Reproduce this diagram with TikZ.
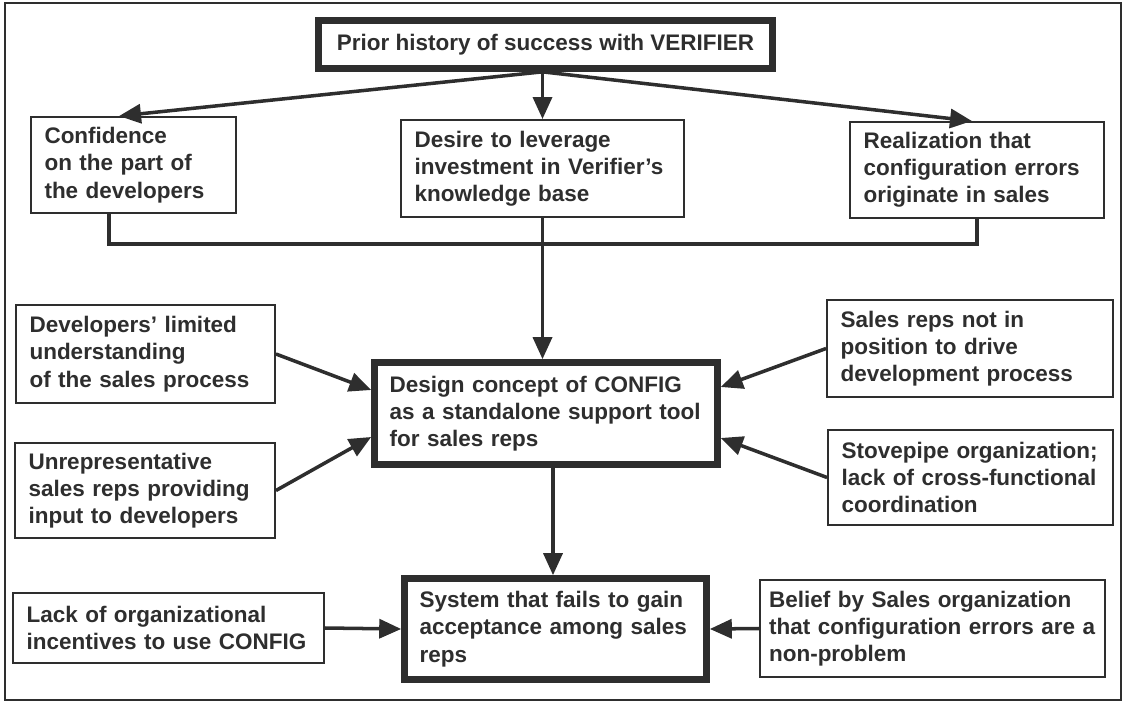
\documentclass[tikz,border=0pt]{standalone}
\usepackage{fontspec}
\setmainfont{Liberation Sans}
\usetikzlibrary{arrows.meta, positioning}
\colorlet{ink}{black!82}
\tikzset{
        ->,  % connectors are directed
        >={Triangle[length=0.44cm, width=0.38cm]}, % big filled heads
        every node/.style={font=\bfseries\fontsize{12.8}{15.5}\selectfont, text=ink},
        factor/.style={draw=ink, line width=1.1pt, align=left, inner xsep=0.27cm, inner ysep=0pt},
        outcome/.style={factor, line width=3.8pt, inner xsep=0.3cm},
        link/.style={line width=2pt, draw=ink}
        }

\begin{document}
\begin{tikzpicture}[x=0.02cm, y=-0.02cm]
        \useasboundingbox (0,0) rectangle (1128,702);
        \draw[-, draw=ink, line width=1pt] (5,3) rectangle (1121,700);
        % top row
        \node[outcome, align=center, minimum width=9.08cm, minimum height=0.96cm] (prior) at (545.5,44.5) {Prior history of success with VERIFIER};
        \node[factor, minimum width=4.10cm, minimum height=1.92cm, text width=3.56cm] (conf) at (133.5,165) {Confidence\\on the part of\\the developers};
        \node[factor, minimum width=5.66cm, minimum height=1.94cm, text width=5.12cm] (desire) at (542.5,168.5) {Desire to leverage\\investment in Verifier’s\\knowledge base};
        \node[factor, minimum width=5.08cm, minimum height=1.92cm, text width=4.54cm] (real) at (977,170) {Realization that\\configuration errors\\originate in sales};
        % middle
        \node[outcome, minimum width=6.86cm, minimum height=2.04cm, text width=6.26cm] (design) at (546,413.5) {Design concept of CONFIG\\as a standalone support tool\\for sales reps};
        \node[factor, minimum width=5.18cm, minimum height=1.96cm, text width=4.64cm] (dev) at (145.5,354) {Developers’ limited\\understanding\\of the sales process};
        \node[factor, minimum width=5.20cm, minimum height=1.90cm, text width=4.66cm] (unrep) at (145,490.5) {Unrepresentative\\sales reps providing\\input to developers};
        \node[factor, minimum width=5.72cm, minimum height=1.94cm, text width=5.18cm] (sales) at (970,348.5) {Sales reps not in\\position to drive\\development process};
        \node[factor, minimum width=5.70cm, minimum height=1.90cm, text width=5.16cm] (stove) at (970.5,477.5) {Stovepipe organization;\\lack of cross-functional\\coordination};
        % bottom row
        \node[outcome, minimum width=6.04cm, minimum height=2.02cm, text width=5.44cm] (system) at (555.5,629) {System that fails to gain\\acceptance among sales\\reps};
        \node[factor, minimum width=6.22cm, minimum height=1.40cm, text width=5.68cm] (lack) at (168.5,628) {Lack of organizational\\incentives to use CONFIG};
        \node[factor, inner xsep=0.18cm, minimum width=6.90cm, minimum height=1.94cm, text width=6.54cm] (belief) at (932.5,628.5) {Belief by Sales organization\\that configuration errors are a\\non-problem};
        \coordinate (bus) at (desire.south |- 0,244);
        \coordinate (drop) at ([xshift=0.14cm]design.south);
        \draw[link] (prior.south -| desire.north) -- ([xshift=-0.29cm]conf.north);
        \draw[link] (prior.south -| desire.north) -- (desire.north);
        \draw[link] (prior.south -| desire.north) -- ([xshift=-0.1cm]real.north);
        \draw[link, -] ([xshift=-0.49cm]conf.south) |- (bus) -| (real.south);
        \draw[link, -] (desire.south) -- (bus);
        \draw[link] (bus) -- (design.north -| bus);
        \draw[link] (dev.east) -- ([yshift=0.47cm]design.west);
        \draw[link] (unrep.east) -- ([yshift=-0.47cm]design.west);
        \draw[link] (sales.west) -- ([yshift=0.53cm]design.east);
        \draw[link] (stove.west) -- ([yshift=-0.49cm]design.east);
        \draw[link] (drop) -- (drop |- system.north);
        \draw[link] (lack.east) -- (system.west);
        \draw[link] (belief.west) -- (system.east);
\end{tikzpicture}
\end{document}
